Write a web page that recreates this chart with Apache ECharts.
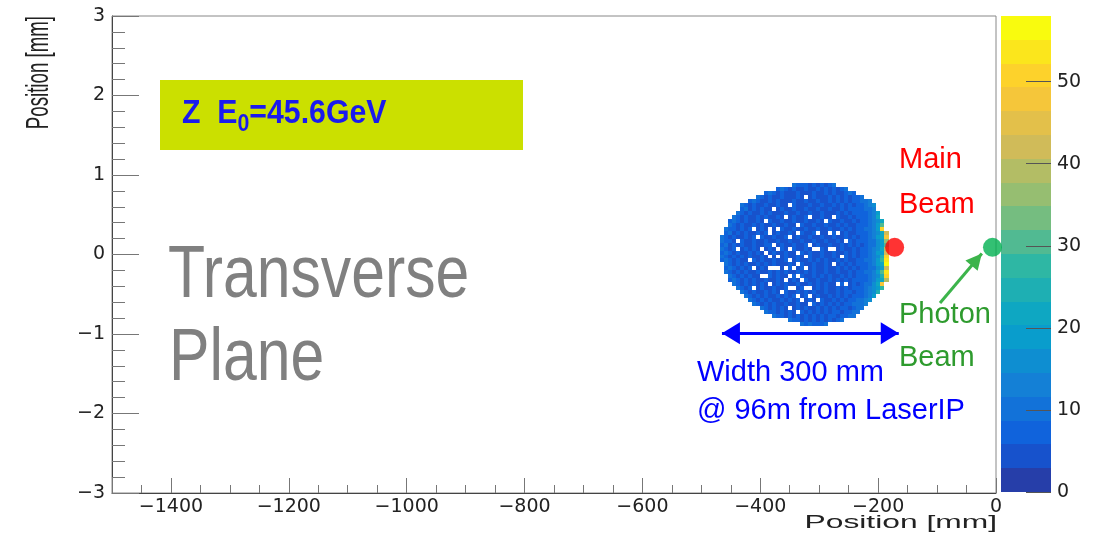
<!DOCTYPE html>
<html>
<head>
<meta charset="utf-8">
<title>Transverse Plane – Z E0=45.6GeV</title>
<script src="https://cdn.jsdelivr.net/npm/echarts@6/dist/echarts.min.js"></script>
<style>
  html, body { margin: 0; padding: 0; background: #ffffff; }
  #chart { width: 1115px; height: 534px; }
</style>
</head>
<body>
<div id="chart"></div>
<script>
// ---- Axis ranges -------------------------------------------------------
const xRange = [-1500, 0];      // Position [mm]
const yRange = [-3, 3];         // Position [mm]
const zMax = 58;                // top of the colour scale
const nContours = 20;           // number of colour levels
const zTickStep = 10;

// ---- 2D histogram binning ---------------------------------------------
const xFirstBinLow = -468;      // mm, low edge of column 0
const xBinWidth = 6.8;          // mm
const yFirstRowCenter = 0.875;  // mm, centre of row 0 (top row)
const yBinHeight = 0.05;        // mm

// Count per bin: one character per bin (spaces are only for readability)
const countCodes = {
  '0': 0, '1': 2, '2': 4, '3': 6, '4': 9, '5': 12, '6': 15, '7': 18, '8': 21,
  '9': 25, 'a': 28, 'b': 31, 'c': 35, 'd': 39, 'e': 43, 'f': 47, 'g': 51,
  'h': 55, 'i': 57
};

// [first column, bin counts] for each row, top to bottom
const histRows = [
  [18, "43332323234"],
  [14, "343232232232323234"],
  [11, "34323222322232232322343"],
  [9,  "4323 22322 23202 32223 23232 334"],
  [7,  "34322 32322 23223 22322 32323 23344 5"],
  [5,  "43232 23223 22032 22322 32232 32323 3456"],
  [5,  "34232 32202 32232 23223 22322 32333 3445"],
  [4,  "432322 32322 23223 22322 32223 23233 33457"],
  [3,  "43 23223 23223 20232 23022 32203 22323 33458"],
  [2,  "343 23223 20322 32232 23223 20322 32232 33456 8"],
  [2,  "432 32232 32232 23220 32232 23223 23223 33457 b"],
  [1,  "4332 32302 32020 32232 23223 22322 32323 34457 g"],
  [1,  "3423 23223 23023 22320 32230 22030 23223 33456 8e"],
  [0,  "43232 23230 32232 23023 22322 32232 23232 33457 8f"],
  [0,  "43320 32232 23223 22322 32232 23223 20323 33446 7c"],
  [0,  "34232 32232 23302 32232 23023 22322 32323 23446 7b"],
  [0,  "43230 23232 02320 32032 23200 32002 32232 33456 8d"],
  [0,  "34323 22323 20232 23220 32322 32232 23232 33457 7e"],
  [0,  "43232 32322 32020 23223 20322 32232 03232 33456 9g"],
  [0,  "34323 22032 32232 23023 22323 23223 23223 34457 ah"],
  [1,  "4323 23223 23232 22320 32232 23202 32323 33457 8i"],
  [1,  "3432 32302 32000 20302 30232 23223 23232 33446 7e"],
  [1,  "4323 23223 22323 23223 23232 23223 22323 34457 bh"],
  [2,  "432 32322 00323 22030 32232 32322 32323 33456 9g"],
  [2,  "343 23232 23223 20232 03223 22323 23233 33457 8d"],
  [3,  "43 23232 32023 23223 22323 23220 30232 34468 f"],
  [4,  "4 32302 32232 23002 30023 23223 23233 34567 a"],
  [5,  "43232 23232 03223 23232 23223 23323 34569"],
  [6,  "4323 23223 23230 23023 22323 23233 3457"],
  [7,  "432 32322 32323 02320 32232 32334 456"],
  [8,  "43 23232 23223 22032 32323 23344 45"],
  [10, "43232 32023 23223 23232 33234 4"],
  [11, "4332 32320 32323 23233 23344"],
  [13, "43 32323 23232 32332 3344"],
  [17, "43323232323234"],
  [20, "4343334"]
];

// ---- Beam spots and annotations ---------------------------------------
const beamNames = ['Main Beam', 'Photon Beam'];
const beamX = [-172, -6];       // mm
const beamY = [0.09, 0.09];     // mm
const widthSpanMm = 300;        // distribution width
const widthArrowStart = -465;   // mm
const widthArrowY = -0.99;      // mm
const photonArrowFrom = [-95, -0.61];
const photonArrowTo = [-24, 0.013];

// ---- Styles -----------------------------------------------------------
const beamColors = ['#ff0000', '#00b050'];
const tickFont = '"DejaVu Sans", sans-serif';
const textFont = '"Liberation Sans", Arial, sans-serif';
// ROOT "bird" palette stops
const birdStops = [
  [0.2082, 0.1664, 0.5293], [0.0592, 0.3599, 0.8684], [0.0780, 0.5041, 0.8385],
  [0.0232, 0.6419, 0.7914], [0.1802, 0.7178, 0.6425], [0.5301, 0.7492, 0.4662],
  [0.8186, 0.7328, 0.3499], [0.9956, 0.7862, 0.1968], [0.9764, 0.9832, 0.0539]
];
function birdColor(t) {
  const p = Math.max(0, Math.min(1, t)) * 8;
  const i = Math.min(7, Math.floor(p));
  const f = p - i;
  const a = birdStops[i], b = birdStops[i + 1];
  const c = [0, 1, 2].map(k => Math.round(255 * (a[k] + (b[k] - a[k]) * f)));
  return 'rgb(' + c.join(',') + ')';
}

// ---- Build series data ------------------------------------------------
const cells = [];
histRows.forEach(([firstCol, codes], row) => {
  const s = codes.replace(/\s+/g, '');
  for (let k = 0; k < s.length; k++) {
    const col = firstCol + k;
    cells.push([
      xFirstBinLow + xBinWidth * (col + 0.5),
      yFirstRowCenter - yBinHeight * row,
      countCodes[s[k]]
    ]);
  }
});

const levelStep = zMax / nContours;
const bands = [];
const pieces = [];
for (let i = 0; i < nContours; i++) {
  const lo = i * levelStep, hi = (i + 1) * levelStep;
  bands.push([lo, hi, (lo + hi) / 2]);
  const piece = { gte: lo, color: birdColor((i + 0.99) / nContours) };
  if (i === nContours - 1) piece.lte = hi + 1e-9; else piece.lt = hi;
  pieces.push(piece);
}

const beamData = beamNames.map((name, i) => ({
  name: name,
  value: [beamX[i], beamY[i]],
  itemStyle: { color: beamColors[i] }
}));

// Arrow head whose tip sits at the end point of the line
const arrowTip = 'path://M10,0L10,0M10,20L20,40L0,40Z';

const minus = v => String(v).replace('-', '\u2212');

// ---- Renderers --------------------------------------------------------
function renderCell(params, api) {
  const v = api.value(2);
  if (!(v > 0)) return null;
  const x = api.value(0), y = api.value(1);
  const p1 = api.coord([x - xBinWidth / 2, y + yBinHeight / 2]);
  const p2 = api.coord([x + xBinWidth / 2, y - yBinHeight / 2]);
  const x0 = Math.round(p1[0]), y0 = Math.round(p1[1]);
  return {
    type: 'rect',
    shape: { x: x0, y: y0, width: Math.round(p2[0]) - x0, height: Math.round(p2[1]) - y0 },
    style: { fill: api.visual('color') }
  };
}
function renderBand(params, api) {
  const p1 = api.coord([0, api.value(1)]);
  const p2 = api.coord([1, api.value(0)]);
  const x0 = Math.round(p1[0]), y0 = Math.round(p1[1]);
  return {
    type: 'rect',
    shape: { x: x0, y: y0, width: Math.round(p2[0]) - x0, height: Math.round(p2[1]) - y0 },
    style: { fill: api.visual('color') }
  };
}

const mainAxisCommon = {
  type: 'value',
  axisLine: { show: true, onZero: false, lineStyle: { color: '#444', width: 1 } },
  splitLine: { show: false },
  axisLabel: { color: '#222', fontFamily: tickFont, fontSize: 19, formatter: minus },
  minorTick: { show: true, lineStyle: { color: '#777', width: 1 } },
  axisTick: { show: true, inside: true, lineStyle: { color: '#777', width: 1 } }
};

const option = {
  animation: false,
  backgroundColor: '#ffffff',
  textStyle: { fontFamily: textFont },
  grid: [
    { left: 112, top: 16, width: 884, height: 477, show: true, borderColor: '#888',
      borderWidth: 1, backgroundColor: 'transparent', containLabel: false, outerBoundsMode: 'none' },
    { left: 1001, top: 16, width: 50, height: 476, show: false, containLabel: false, outerBoundsMode: 'none' }
  ],
  xAxis: [
    Object.assign({}, mainAxisCommon, {
      gridIndex: 0, min: xRange[0], max: xRange[1], splitNumber: 8,
      minInterval: 200, maxInterval: 200,
      axisLabel: Object.assign({}, mainAxisCommon.axisLabel, { margin: 5, showMinLabel: false }),
      axisTick: Object.assign({}, mainAxisCommon.axisTick, { length: 15 }),
      minorTick: Object.assign({}, mainAxisCommon.minorTick, { splitNumber: 4, length: 8 })
    }),
    { type: 'value', gridIndex: 1, min: 0, max: 1, show: false }
  ],
  yAxis: [
    Object.assign({}, mainAxisCommon, {
      gridIndex: 0, min: yRange[0], max: yRange[1], interval: 1,
      axisLabel: Object.assign({}, mainAxisCommon.axisLabel, { margin: 7 }),
      axisTick: Object.assign({}, mainAxisCommon.axisTick, { length: 27 }),
      minorTick: Object.assign({}, mainAxisCommon.minorTick, { splitNumber: 5, length: 13 })
    }),
    {
      type: 'value', gridIndex: 1, position: 'right', min: 0, max: zMax, interval: zTickStep, z: 10,
      axisLine: { show: false, onZero: false },
      splitLine: { show: false },
      axisTick: { show: true, inside: true, length: 25, lineStyle: { color: '#555', width: 1 } },
      axisLabel: { color: '#222', fontFamily: tickFont, fontSize: 19, margin: 6, showMaxLabel: false }
    }
  ],
  visualMap: {
    type: 'piecewise', show: false, dimension: 2, seriesIndex: [0, 1], pieces: pieces
  },
  series: [
    {
      type: 'custom', name: 'Counts', xAxisIndex: 0, yAxisIndex: 0,
      renderItem: renderCell, data: cells, encode: { x: 0, y: 1 }, silent: true
    },
    {
      type: 'custom', name: 'Colour scale', xAxisIndex: 1, yAxisIndex: 1,
      renderItem: renderBand, data: bands, encode: { y: [0, 1] }, silent: true
    },
    {
      type: 'scatter', name: 'Beams', xAxisIndex: 0, yAxisIndex: 0,
      symbol: 'circle', symbolSize: 19, clip: false, silent: true, z: 5,
      data: beamData,
      markLine: {
        silent: true, animation: false,
        label: { show: false },
        emphasis: { disabled: true },
        data: [
          [
            { coord: [widthArrowStart, widthArrowY], symbol: arrowTip, symbolSize: [22, 36],
              lineStyle: { color: '#0000ff', width: 3, type: 'solid' } },
            { coord: [widthArrowStart + widthSpanMm, widthArrowY], symbol: arrowTip, symbolSize: [22, 36] }
          ],
          [
            { coord: photonArrowFrom, symbol: 'none',
              lineStyle: { color: '#3cb44b', width: 3, type: 'solid' } },
            { coord: photonArrowTo, symbol: arrowTip, symbolSize: [16, 32] }
          ]
        ]
      }
    }
  ],
  graphic: {
    elements: [
      // axis titles
      { type: 'text', x: 997, y: 523, scaleX: 1.7, z: 100,
        style: { text: 'Position [mm]', fontSize: 18.7, fontFamily: textFont, fill: '#222',
                 align: 'right', verticalAlign: 'middle', textAlign: 'right', textVerticalAlign: 'middle' } },
      { type: 'text', x: 39, y: 16, rotation: Math.PI / 2, scaleY: 1.7, z: 100,
        style: { text: 'Position [mm]', fontSize: 18.7, fontFamily: textFont, fill: '#222',
                 align: 'right', verticalAlign: 'middle', textAlign: 'right', textVerticalAlign: 'middle' } },
      // energy box
      { type: 'rect', shape: { x: 160, y: 80, width: 363, height: 70 }, style: { fill: '#cbe000' }, z: 100 },
      { type: 'text', x: 182, y: 114, scaleX: 0.89, z: 101,
        style: {
          text: '{a|Z  E}{s|0}{a|=45.6GeV}',
          rich: {
            a: { fontSize: 34, fontWeight: 'bold', fontFamily: textFont, fill: '#1a1aee', lineHeight: 44 },
            s: { fontSize: 24, fontWeight: 'bold', fontFamily: textFont, fill: '#1a1aee',
                 verticalAlign: 'bottom', lineHeight: 24 }
          },
          align: 'left', verticalAlign: 'middle', textAlign: 'left', textVerticalAlign: 'middle'
        } },
      // plane caption
      { type: 'text', x: 168, y: 277, scaleX: 0.82, z: 100,
        style: { text: 'Transverse', fontSize: 74, fontFamily: textFont, fill: '#808080',
                 align: 'left', verticalAlign: 'middle', textAlign: 'left', textVerticalAlign: 'middle' } },
      { type: 'text', x: 169, y: 360, scaleX: 0.82, z: 100,
        style: { text: 'Plane', fontSize: 74, fontFamily: textFont, fill: '#808080',
                 align: 'left', verticalAlign: 'middle', textAlign: 'left', textVerticalAlign: 'middle' } },
      // beam labels
      { type: 'text', x: 899, y: 160, z: 100,
        style: { text: 'Main', fontSize: 29, fontFamily: textFont, fill: '#ff0000',
                 align: 'left', verticalAlign: 'middle', textAlign: 'left', textVerticalAlign: 'middle' } },
      { type: 'text', x: 899, y: 205, z: 100,
        style: { text: 'Beam', fontSize: 29, fontFamily: textFont, fill: '#ff0000',
                 align: 'left', verticalAlign: 'middle', textAlign: 'left', textVerticalAlign: 'middle' } },
      { type: 'text', x: 899, y: 315, z: 100,
        style: { text: 'Photon', fontSize: 29, fontFamily: textFont, fill: '#2e9b2e',
                 align: 'left', verticalAlign: 'middle', textAlign: 'left', textVerticalAlign: 'middle' } },
      { type: 'text', x: 899, y: 358, z: 100,
        style: { text: 'Beam', fontSize: 29, fontFamily: textFont, fill: '#2e9b2e',
                 align: 'left', verticalAlign: 'middle', textAlign: 'left', textVerticalAlign: 'middle' } },
      // width note
      { type: 'text', x: 697, y: 373, z: 100,
        style: { text: 'Width ' + widthSpanMm + ' mm', fontSize: 29, fontFamily: textFont, fill: '#0000ff',
                 align: 'left', verticalAlign: 'middle', textAlign: 'left', textVerticalAlign: 'middle' } },
      { type: 'text', x: 697, y: 411, z: 100,
        style: { text: '@ 96m from LaserIP', fontSize: 29, fontFamily: textFont, fill: '#0000ff',
                 align: 'left', verticalAlign: 'middle', textAlign: 'left', textVerticalAlign: 'middle' } }
    ]
  }
};

const chart = echarts.init(document.getElementById('chart'), null, { renderer: 'canvas' });
chart.setOption(option);
</script>
</body>
</html>
